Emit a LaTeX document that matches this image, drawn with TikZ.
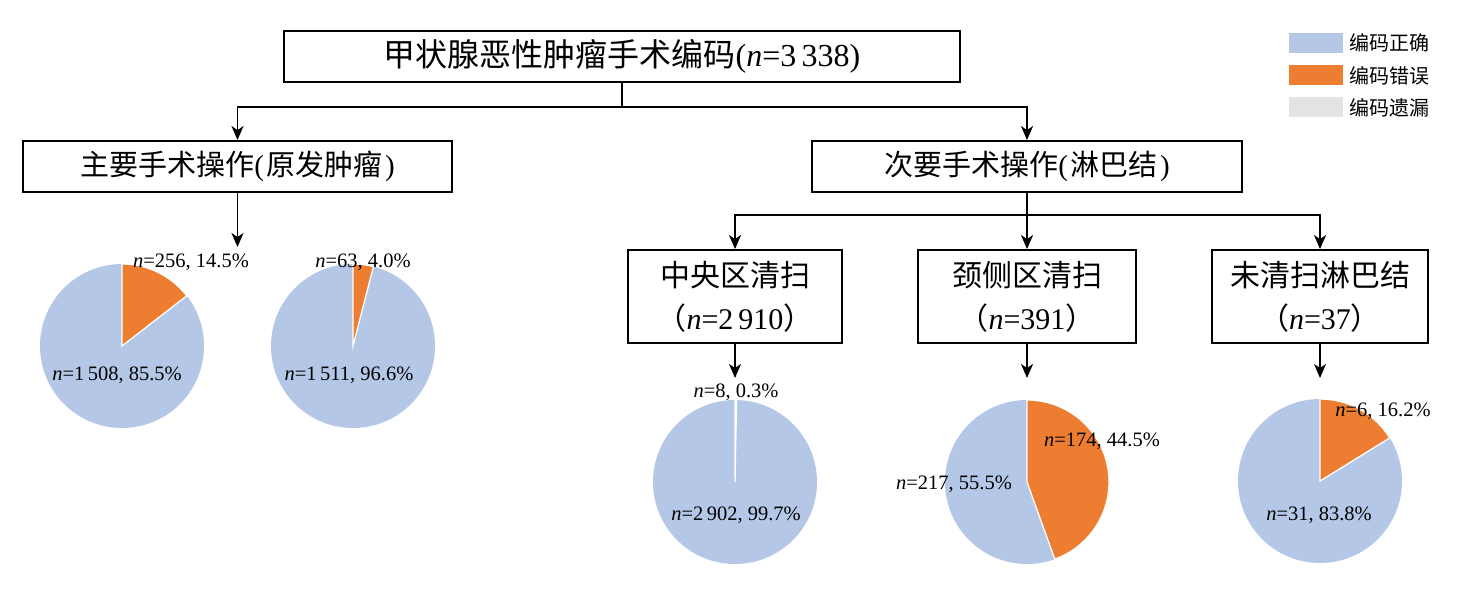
\documentclass[tikz,border=0pt]{standalone}
\usepackage{fontspec}
\setmainfont{Liberation Serif}
\newfontfamily\cjk{Noto Sans CJK SC}
\usetikzlibrary{arrows.meta}
\definecolor{pieblue}{HTML}{B4C7E7}
\definecolor{pieorange}{HTML}{ED7D31}
\definecolor{piegray}{HTML}{E3E3E3}
\begin{document}
\begin{tikzpicture}[x=1pt,y=-1pt,
  box/.style={draw=black, line width=1.9pt, inner sep=0pt, align=center},
  conn/.style={draw=black, line width=1.9pt},
  arr/.style={conn, -{Stealth[length=14pt,width=12pt,inset=4pt]}},
  lbl/.style={font=\fontsize{20.5}{24}\selectfont, inner sep=0pt},
  leg/.style={font=\fontsize{20}{22}\selectfont\cjk, inner sep=0pt, anchor=west},
  swatch/.style={minimum width=54pt, minimum height=20pt, inner sep=0pt},
  slice/.style={draw=white, line width=1.3pt},
]
\useasboundingbox (0,0) rectangle (1463,599);

% boxes
\node[box, minimum width=676pt, minimum height=51pt, font=\fontsize{32}{36}\selectfont] (top) at (622,56.5)
  {{\cjk 甲状腺恶性肿瘤手术编码}(\textit{n}=3\,338)};
\node[box, minimum width=429pt, minimum height=51pt, font=\fontsize{29}{34}\selectfont] (prim) at (237.5,166.5)
  {{\cjk 主要手术操作}(\hspace{2pt}{\cjk 原发肿瘤}\hspace{3pt})};
\node[box, minimum width=430pt, minimum height=51pt, font=\fontsize{29}{34}\selectfont] (sec) at (1027,166.5)
  {{\cjk 次要手术操作}(\hspace{2pt}{\cjk 淋巴结}\hspace{3pt})};
\node[box, minimum width=214pt, minimum height=93pt, font=\fontsize{30}{43}\selectfont] (cen) at (735,296.5)
  {{\cjk 中央区清扫}\\{\cjk （}\textit{n}=2\,910{\cjk ）}};
\node[box, minimum width=218pt, minimum height=93pt, font=\fontsize{30}{43}\selectfont] (lat) at (1027,296.5)
  {{\cjk 颈侧区清扫}\\{\cjk （}\textit{n}=391{\cjk ）}};
\node[box, minimum width=216pt, minimum height=93pt, font=\fontsize{30}{43}\selectfont] (non) at (1320,296.5)
  {{\cjk 未清扫淋巴结}\\{\cjk （}\textit{n}=37{\cjk ）}};

% connectors
\coordinate (j1) at (622,107);
\draw[conn] (top.south) -- (j1);
\draw[arr] (j1) -| (prim.north);
\draw[arr] (j1) -| (sec.north);
\coordinate (p1) at (237.5,247);
\draw[arr] (prim.south) -- (p1);
\coordinate (j2) at (1027,215);
\draw[conn] (sec.south) -- (j2);
\draw[arr] (j2) -| (cen.north);
\draw[arr] (j2) -- (lat.north);
\draw[arr] (j2) -| (non.north);
\coordinate (p3) at (735,378);
\coordinate (p4) at (1027,378);
\coordinate (p5) at (1320,378);
\draw[arr] (cen.south) -- (p3);
\draw[arr] (lat.south) -- (p4);
\draw[arr] (non.south) -- (p5);

% pies
\coordinate (c1) at (122,346);
\coordinate (c2) at (353,346);
\coordinate (c3) at (735,482);
\coordinate (c4) at (1027,482);
\coordinate (c5) at (1320,481);
\fill[pieblue] (c1) circle[radius=82pt];
\filldraw[slice, fill=pieorange] (c1) -- ++(90:82pt) arc[start angle=90, end angle=37.8, radius=82pt] -- cycle;
\fill[pieblue] (c2) circle[radius=82pt];
\filldraw[slice, fill=pieorange] (c2) -- ++(90:82pt) arc[start angle=90, end angle=75.6, radius=82pt] -- cycle;
\fill[pieblue] (c3) circle[radius=82pt];
\filldraw[slice, fill=piegray] (c3) -- ++(90:82pt) arc[start angle=90, end angle=88.9, radius=82pt] -- cycle;
\fill[pieblue] (c4) circle[radius=82pt];
\filldraw[slice, fill=pieorange] (c4) -- ++(90:82pt) arc[start angle=90, end angle=-70.2, radius=82pt] -- cycle;
\fill[pieblue] (c5) circle[radius=82pt];
\filldraw[slice, fill=pieorange] (c5) -- ++(90:82pt) arc[start angle=90, end angle=31.7, radius=82pt] -- cycle;

% pie labels
\node[lbl] (l1a) at (191,262) {\textit{n}=256, 14.5\%};
\node[lbl] (l1b) at (117,375) {\textit{n}=1\,508, 85.5\%};
\node[lbl] (l2a) at (363,262) {\textit{n}=63, 4.0\%};
\node[lbl] (l2b) at (349,375) {\textit{n}=1\,511, 96.6\%};
\node[lbl] (l3a) at (736,392) {\textit{n}=8, 0.3\%};
\node[lbl] (l3b) at (736,515) {\textit{n}=2\,902, 99.7\%};
\node[lbl] (l4a) at (1102,441) {\textit{n}=174, 44.5\%};
\node[lbl] (l4b) at (954,484) {\textit{n}=217, 55.5\%};
\node[lbl] (l5a) at (1383,411) {\textit{n}=6, 16.2\%};
\node[lbl] (l5b) at (1319,515) {\textit{n}=31, 83.8\%};

% legend
\node[swatch, fill=pieblue] (s1) at (1316,43) {};
\node[swatch, fill=pieorange] (s2) at (1316,75.5) {};
\node[swatch, fill=piegray] (s3) at (1316,107.5) {};
\node[leg] (t1) at (1349,43) {编码正确};
\node[leg] (t2) at (1349,75.5) {编码错误};
\node[leg] (t3) at (1349,107.5) {编码遗漏};
\end{tikzpicture}
\end{document}
